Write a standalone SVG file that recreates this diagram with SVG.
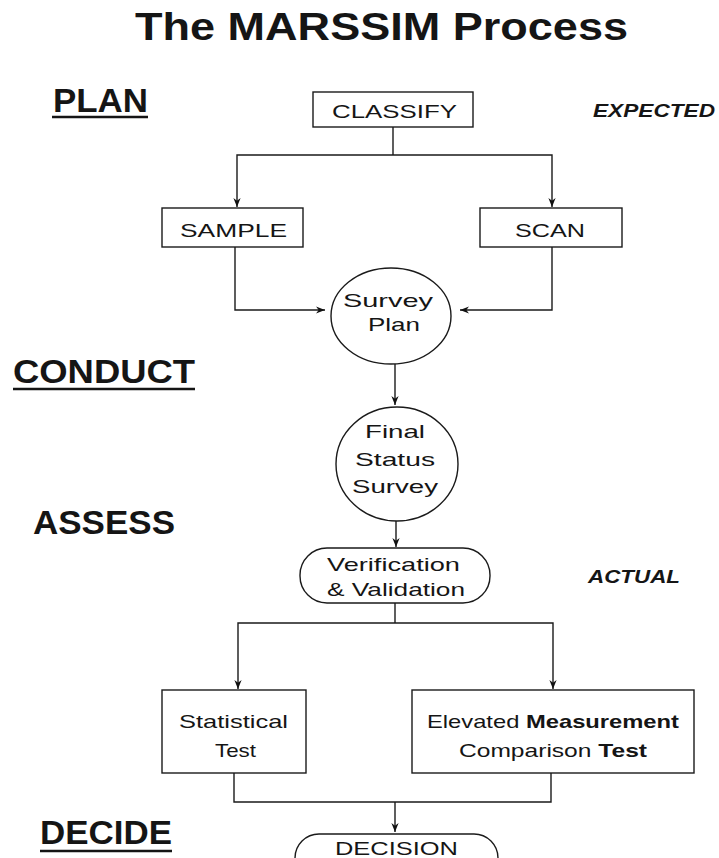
<svg xmlns="http://www.w3.org/2000/svg" width="719" height="858" viewBox="0 0 719 858">
<defs>
<marker id="ah" viewBox="0 0 10 10" markerWidth="9" markerHeight="9" refX="10" refY="5" orient="auto" markerUnits="userSpaceOnUse"><path d="M0,1 L10,5 L0,9 L3,5 z" fill="#111"/></marker>
</defs>
<style>
.shape{fill:none;stroke:#1a1a1a;stroke-width:1.4}
.conn{fill:none;stroke:#1a1a1a;stroke-width:1.4}
.t{font-family:"Liberation Sans",Arial,sans-serif;fill:#151515}
.node{font-size:19px}
.hdr{font-size:33px;font-weight:bold}
.ul{stroke:#151515;stroke-width:2.5}
.note{font-size:18px;font-weight:bold;font-style:italic}
</style>
<rect width="719" height="858" fill="#fff"/>

<g id="labels">
<text class="t" x="135" y="40" font-size="39" font-weight="bold" textLength="493" lengthAdjust="spacingAndGlyphs">The MARSSIM Process</text>
<text class="t hdr" x="53" y="112" font-size="30" textLength="95" lengthAdjust="spacingAndGlyphs">PLAN</text>
<line class="ul" x1="52" y1="117" x2="148" y2="117"/>
<text class="t note" x="593" y="117" textLength="122" lengthAdjust="spacingAndGlyphs">EXPECTED</text>
<text class="t hdr" x="13" y="383" textLength="182" lengthAdjust="spacingAndGlyphs">CONDUCT</text>
<line class="ul" x1="13" y1="389" x2="195" y2="389"/>
<text class="t hdr" x="33" y="534" textLength="142" lengthAdjust="spacingAndGlyphs">ASSESS</text>
<text class="t note" x="588" y="583" textLength="92" lengthAdjust="spacingAndGlyphs">ACTUAL</text>
<text class="t hdr" x="40" y="844" font-size="34" textLength="132" lengthAdjust="spacingAndGlyphs">DECIDE</text>
<line class="ul" x1="40" y1="851" x2="172" y2="851"/>
</g>

<g id="connectors">
<path class="conn" d="M393,127 V155"/>
<path class="conn" d="M393,155 H237 V207" marker-end="url(#ah)"/>
<path class="conn" d="M393,155 H552 V207" marker-end="url(#ah)"/>
<path class="conn" d="M235,247 V310 H325" marker-end="url(#ah)"/>
<path class="conn" d="M552,247 V310 H460" marker-end="url(#ah)"/>
<path class="conn" d="M395,364 V405" marker-end="url(#ah)"/>
<path class="conn" d="M396,521 V547" marker-end="url(#ah)"/>
<path class="conn" d="M395,603 V623"/>
<path class="conn" d="M395,623 H238 V689" marker-end="url(#ah)"/>
<path class="conn" d="M395,623 H553 V689" marker-end="url(#ah)"/>
<path class="conn" d="M234,773 V802 H551 V773"/>
<path class="conn" d="M395,802 V832" marker-end="url(#ah)"/>
</g>

<g id="classify">
<rect class="shape" x="313" y="92" width="160" height="35"/>
<text class="t node" x="332" y="118" textLength="125" lengthAdjust="spacingAndGlyphs">CLASSIFY</text>
</g>
<g id="sample">
<rect class="shape" x="162" y="208" width="141" height="39"/>
<text class="t node" x="180" y="237" textLength="107" lengthAdjust="spacingAndGlyphs">SAMPLE</text>
</g>
<g id="scan">
<rect class="shape" x="480" y="208" width="142" height="39"/>
<text class="t node" x="515" y="237" textLength="70" lengthAdjust="spacingAndGlyphs">SCAN</text>
</g>
<g id="survey-plan">
<ellipse class="shape" cx="391" cy="316" rx="60" ry="48"/>
<text class="t node" x="343" y="307" font-size="21" textLength="90" lengthAdjust="spacingAndGlyphs">Survey</text>
<text class="t node" x="368" y="331" font-size="21" textLength="52" lengthAdjust="spacingAndGlyphs">Plan</text>
</g>
<g id="final-status-survey">
<ellipse class="shape" cx="397" cy="464" rx="61" ry="57"/>
<text class="t node" x="365" y="438" font-size="20" textLength="60" lengthAdjust="spacingAndGlyphs">Final</text>
<text class="t node" x="355" y="466" font-size="20" textLength="80" lengthAdjust="spacingAndGlyphs">Status</text>
<text class="t node" x="352" y="493" font-size="20" textLength="86" lengthAdjust="spacingAndGlyphs">Survey</text>
</g>
<g id="verification">
<rect class="shape" x="300" y="548" width="190" height="55" rx="27" ry="27"/>
<text class="t node" x="327" y="571" textLength="133" lengthAdjust="spacingAndGlyphs">Verification</text>
<text class="t node" x="327" y="596" textLength="138" lengthAdjust="spacingAndGlyphs">&amp; Validation</text>
</g>
<g id="statistical-test">
<rect class="shape" x="162" y="690" width="144" height="83"/>
<text class="t node" x="179" y="728" textLength="109" lengthAdjust="spacingAndGlyphs">Statistical</text>
<text class="t node" x="215" y="757" textLength="41" lengthAdjust="spacingAndGlyphs">Test</text>
</g>
<g id="elevated-test">
<rect class="shape" x="412" y="690" width="282" height="83"/>
<text class="t node" x="427" y="728" textLength="252" lengthAdjust="spacingAndGlyphs">Elevated <tspan font-weight="bold">Measurement</tspan></text>
<text class="t node" x="459" y="757" textLength="188" lengthAdjust="spacingAndGlyphs">Comparison <tspan font-weight="bold">Test</tspan></text>
</g>
<g id="decision">
<rect class="shape" x="295" y="834" width="203" height="50" rx="24" ry="24"/>
<text class="t node" x="335" y="855" textLength="123" lengthAdjust="spacingAndGlyphs">DECISION</text>
</g>
</svg>
